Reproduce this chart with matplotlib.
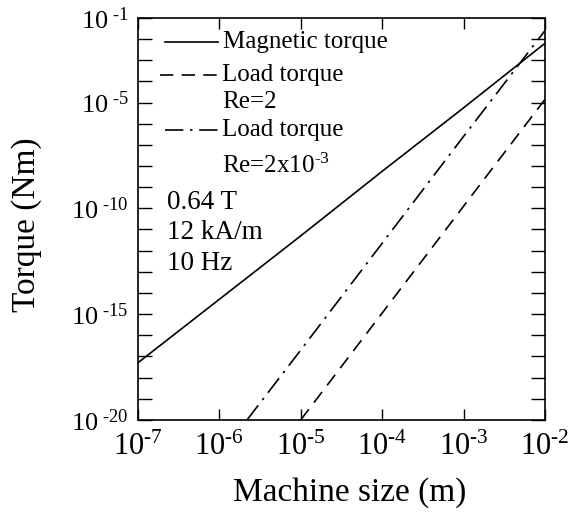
import numpy as np
import matplotlib
matplotlib.use("Agg")
import matplotlib.pyplot as plt
from matplotlib.ticker import FixedLocator, FixedFormatter

plt.rcParams['font.family'] = ['Liberation Serif', 'DejaVu Serif']
plt.rcParams['mathtext.fontset'] = 'custom'
plt.rcParams['mathtext.rm'] = 'Liberation Serif'
plt.rcParams['mathtext.it'] = 'Liberation Serif:italic'

# Data (log10 values)
mag_size = [1e-7, 1e-6, 1e-5, 1e-4, 1e-3, 1e-2]
mag_torque = [10**-17.3, 10**-14.3, 10**-11.3, 10**-8.25, 10**-5.25, 10**-2.2]
load_re2_size = [1e-5, 1e-4, 1e-3, 1e-2]
load_re2_torque = [10**-20.0, 10**-14.95, 10**-9.9, 10**-4.85]
load_re2m3_size = [10**-5.66, 1e-5, 1e-4, 1e-3, 1e-2]
load_re2m3_torque = [10**-20.0, 10**-16.7, 10**-11.65, 10**-6.6, 10**-1.6]

x_ticks = [1e-7, 1e-6, 1e-5, 1e-4, 1e-3, 1e-2]
x_labels = [r'$10^{\text{-}7}$', r'$10^{\text{-}6}$', r'$10^{\text{-}5}$',
            r'$10^{\text{-}4}$', r'$10^{\text{-}3}$', r'$10^{\text{-}2}$']
y_label_ticks = [1e-20, 1e-15, 1e-10, 1e-5, 1e-1]
y_labels = [r'$10^{\ \text{-}20}$', r'$10^{\ \text{-}15}$', r'$10^{\ \text{-}10}$',
            r'$10^{\ \text{-}5}$', r'$10^{\ \text{-}1}$']
y_all_ticks = [10.0**k for k in range(-20, 0)]

fig = plt.figure(figsize=(5.86, 5.12), dpi=100)
ax = fig.add_axes([0.2355, 0.180, 0.6945, 0.785])

lw = 1.2
ax.plot(mag_size, mag_torque, color='black', lw=lw, ls='-')
ax.plot(load_re2_size, load_re2_torque, color='black', lw=lw, ls=(0, (8, 5)))
ax.plot(load_re2m3_size, load_re2m3_torque, color='black', lw=lw, ls=(0, (11, 4, 1.5, 4)))

ax.set_xscale('log')
ax.set_yscale('log')
ax.set_xlim(1e-7, 1e-2)
ax.set_ylim(1e-20, 1e-1)

ax.xaxis.set_major_locator(FixedLocator(x_ticks))
ax.xaxis.set_major_formatter(FixedFormatter(x_labels))
ax.xaxis.set_minor_locator(FixedLocator([]))
ax.yaxis.set_major_locator(FixedLocator(y_all_ticks))
ylab_map = {round(np.log10(v)): l for v, l in zip(y_label_ticks, y_labels)}
ax.yaxis.set_major_formatter(FixedFormatter([ylab_map.get(round(np.log10(v)), '') for v in y_all_ticks]))
ax.yaxis.set_minor_locator(FixedLocator([]))

ax.tick_params(axis='x', which='major', direction='in', top=True, bottom=True,
               length=8, width=1.0, labelsize=22, pad=9)
ax.tick_params(axis='y', which='major', direction='in', left=True, right=True,
               length=10, width=1.0, labelsize=19, pad=7)
for s in ax.spines.values():
    s.set_linewidth(1.2)

ax.set_xlabel('Machine size (m)', fontsize=24)
ax.set_ylabel('Torque (Nm)', fontsize=24)
ax.xaxis.set_label_coords(0.52, -0.142)
ax.yaxis.set_label_coords(-0.236, 0.485)

# Legend (manual, frameless)
fs = 18
ax.plot([0.066, 0.197], [0.940, 0.940], transform=ax.transAxes, color='black', lw=lw, ls='-')
ax.plot([0.055, 0.197], [0.858, 0.858], transform=ax.transAxes, color='black', lw=lw, ls=(0, (8, 5)))
ax.plot([0.066, 0.197], [0.721, 0.721], transform=ax.transAxes, color='black', lw=lw, ls=(0, (11, 4, 1.5, 4)))
ax.text(0.210, 0.940, 'Magnetic torque', transform=ax.transAxes, fontsize=fs, va='center', ha='left')
ax.text(0.206, 0.858, 'Load torque', transform=ax.transAxes, fontsize=fs, va='center', ha='left')
ax.text(0.206, 0.792, 'Re=2', transform=ax.transAxes, fontsize=fs, va='center', ha='left')
ax.text(0.206, 0.721, 'Load torque', transform=ax.transAxes, fontsize=fs, va='center', ha='left')
ax.text(0.206, 0.632, r'Re=2x$10^{\text{-}3}$', transform=ax.transAxes, fontsize=fs, va='center', ha='left')

fs2 = 19.5
ax.text(0.071, 0.540, '0.64 T', transform=ax.transAxes, fontsize=fs2, va='center', ha='left')
ax.text(0.071, 0.465, '12 kA/m', transform=ax.transAxes, fontsize=fs2, va='center', ha='left')
ax.text(0.071, 0.388, '10 Hz', transform=ax.transAxes, fontsize=fs2, va='center', ha='left')

fig.savefig('out.png', dpi=100)
